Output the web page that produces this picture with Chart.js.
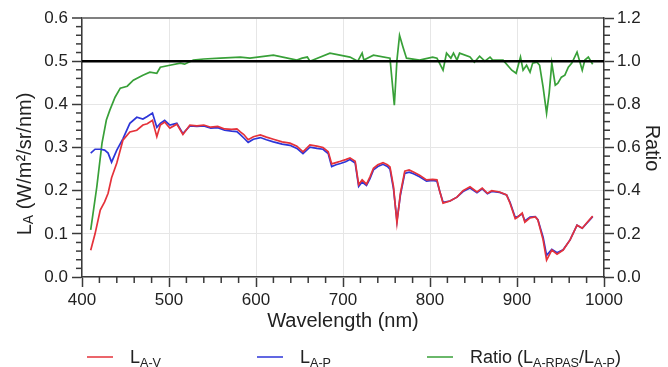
<!DOCTYPE html>
<html>
<head>
<meta charset="utf-8">
<script src="https://cdn.jsdelivr.net/npm/chart.js@4.4.1/dist/chart.umd.min.js"></script>
<style>
  html, body { margin: 0; padding: 0; background: #fff; }
  #wrap { width: 668px; height: 367px; }
</style>
</head>
<body>
<div id="wrap"><canvas id="myChart" width="668" height="367"></canvas></div>
<script>
// wavelengths (nm) for the radiance curves
const wavelengths = [410, 415, 421, 426, 430, 434, 440, 447, 455, 463, 470, 475, 481, 486, 490, 495, 501, 509, 516, 524,
  532, 540, 548, 556, 564, 572, 578, 582, 586, 591, 597, 605, 612, 620, 630, 639, 647, 654, 662, 670,
  677, 683, 687, 692, 697, 703, 708, 714, 718, 722, 727, 731, 735, 740, 746, 751, 754, 758, 762, 766,
  771, 776, 781, 788, 796, 803, 808, 811, 815, 823, 831, 838, 846, 854, 860, 866, 871, 880, 888, 892,
  898, 901, 906, 909, 915, 921, 924, 930, 934, 940, 946, 953, 961, 969, 975, 980, 987];
// L_A-V radiance (W/m2/sr/nm)
const radianceV = [0.062, 0.100, 0.155, 0.174, 0.194, 0.230, 0.264, 0.317, 0.336, 0.340, 0.352, 0.355, 0.363, 0.325, 0.352, 0.359, 0.345, 0.354, 0.330, 0.352,
  0.350, 0.352, 0.347, 0.349, 0.343, 0.342, 0.343, 0.336, 0.330, 0.318, 0.325, 0.329, 0.324, 0.319, 0.313, 0.310, 0.303, 0.290, 0.306, 0.303,
  0.300, 0.290, 0.262, 0.265, 0.268, 0.272, 0.276, 0.268, 0.214, 0.225, 0.215, 0.232, 0.252, 0.260, 0.265, 0.260, 0.255, 0.210, 0.125, 0.194,
  0.245, 0.248, 0.243, 0.236, 0.225, 0.226, 0.225, 0.200, 0.171, 0.176, 0.185, 0.200, 0.209, 0.197, 0.206, 0.194, 0.200, 0.197, 0.190, 0.171,
  0.135, 0.139, 0.148, 0.127, 0.137, 0.139, 0.132, 0.086, 0.039, 0.0625, 0.053, 0.0625, 0.086, 0.120, 0.113, 0.125, 0.141];
// L_A-P radiance (W/m2/sr/nm)
const radianceP = [0.287, 0.296, 0.296, 0.294, 0.287, 0.266, 0.294, 0.320, 0.356, 0.370, 0.366, 0.372, 0.380, 0.347, 0.356, 0.363, 0.352, 0.356, 0.332, 0.350,
  0.349, 0.350, 0.345, 0.346, 0.340, 0.338, 0.337, 0.330, 0.322, 0.312, 0.319, 0.323, 0.318, 0.313, 0.308, 0.305, 0.298, 0.286, 0.301, 0.298,
  0.296, 0.286, 0.256, 0.260, 0.263, 0.267, 0.272, 0.264, 0.210, 0.220, 0.212, 0.228, 0.248, 0.256, 0.261, 0.256, 0.250, 0.205, 0.130, 0.190,
  0.240, 0.243, 0.239, 0.232, 0.222, 0.224, 0.222, 0.200, 0.173, 0.176, 0.185, 0.198, 0.206, 0.195, 0.204, 0.193, 0.198, 0.196, 0.190, 0.173,
  0.138, 0.140, 0.146, 0.130, 0.139, 0.140, 0.133, 0.092, 0.050, 0.064, 0.056, 0.063, 0.086, 0.120, 0.113, 0.124, 0.140];

// wavelengths (nm) and ratio L_A-RPAS / L_A-P
const ratioWavelengths = [410, 417, 423, 428, 432, 438, 444, 452, 459, 470, 478, 486, 490, 501, 513, 518, 528, 540, 559, 582,
  593, 620, 647, 653, 659, 662, 685, 708, 717, 722, 724, 735, 754, 759, 762, 765, 769, 773, 788, 803,
  808, 815, 819, 824, 827, 831, 834, 846, 851, 857, 863, 869, 872, 884, 894, 899, 904, 907, 911, 915,
  918, 923, 926, 930, 934, 937, 940, 944, 947, 951, 955, 959, 963, 969, 975, 978, 982, 987];
const ratioValues = [0.218, 0.417, 0.620, 0.727, 0.773, 0.833, 0.875, 0.884, 0.912, 0.935, 0.949, 0.944, 0.972, 0.981, 0.991, 0.986, 1.005, 1.010, 1.014, 1.019,
  1.014, 1.028, 1.005, 1.014, 1.019, 1.000, 1.037, 1.019, 1.000, 1.037, 1.005, 1.028, 1.014, 0.796, 1.005, 1.120, 1.065, 1.014, 1.005, 1.019,
  1.014, 0.958, 1.037, 1.014, 1.037, 1.005, 1.037, 1.019, 0.995, 1.023, 1.000, 1.019, 1.005, 1.005, 0.958, 0.944, 1.019, 0.958, 0.981, 0.949,
  0.991, 0.995, 0.981, 0.880, 0.759, 0.852, 0.991, 0.889, 0.898, 0.926, 0.935, 0.972, 0.991, 1.042, 0.958, 1.005, 1.019, 0.986];
const ratioReference = 1.0;

// axis ranges and tick steps
const xRange = [400, 1000], xStep = 100;
const yRange = [0, 0.6], yStep = 0.1;
const ratioRange = [0, 1.2], ratioStep = 0.2;
const minorPerMajor = 5;

const FONT = "'Liberation Sans', Arial, sans-serif";
const RED = '#e5323a', BLUE = '#2d35d8', GREEN = '#38a038';
const AXIS = '#3a3a3a';

const toPoints = (xs, ys) => xs.map((x, i) => ({ x: x, y: ys[i] }));

// small ticks between the labelled ones
const minorTicks = {
  id: 'minorTicks',
  afterDatasetsDraw(chart) {
    const c = chart.ctx;
    const steps = { x: xStep, y: yStep, y1: ratioStep };
    c.save();
    c.strokeStyle = AXIS;
    c.lineWidth = 1.5;
    Object.keys(steps).forEach(id => {
      const s = chart.scales[id];
      const step = steps[id] / minorPerMajor;
      const n = Math.round((s.max - s.min) / step);
      for (let i = 1; i < n; i++) {
        if (i % minorPerMajor === 0) continue;
        const p = s.getPixelForValue(s.min + i * step);
        c.beginPath();
        if (id === 'x') { c.moveTo(p, s.top); c.lineTo(p, s.top + 6); }
        else if (id === 'y') { c.moveTo(s.right, p); c.lineTo(s.right - 6, p); }
        else { c.moveTo(s.left, p); c.lineTo(s.left + 6, p); }
        c.stroke();
      }
    });
    c.restore();
  }
};

// text with subscripts: parts are [text, isSub]
function drawRich(c, parts, x, y, size) {
  parts.forEach(([t, sub]) => {
    c.font = (sub ? size * 0.7 : size) + 'px ' + FONT;
    c.fillText(t, x, sub ? y + size * 0.2 : y);
    x += c.measureText(t).width;
  });
  return x;
}
function richWidth(c, parts, size) {
  let w = 0;
  parts.forEach(([t, sub]) => {
    c.font = (sub ? size * 0.7 : size) + 'px ' + FONT;
    w += c.measureText(t).width;
  });
  return w;
}

const titlesAndLegend = {
  id: 'titlesAndLegend',
  afterDraw(chart) {
    const c = chart.ctx;
    const area = chart.chartArea;
    c.save();
    c.fillStyle = '#222';
    c.textBaseline = 'middle';

    // x title
    c.font = '20px ' + FONT;
    c.textAlign = 'center';
    c.fillText('Wavelength (nm)', (area.left + area.right) / 2, 321);

    // right title
    c.save();
    c.translate(652, 148);
    c.rotate(Math.PI / 2);
    c.fillText('Ratio', 0, 0);
    c.restore();

    // left title
    c.textAlign = 'left';
    const yTitle = [['L', false], ['A', true], [' (W/m\u00b2/sr/nm)', false]];
    c.save();
    c.translate(25, 164);
    c.rotate(-Math.PI / 2);
    drawRich(c, yTitle, -richWidth(c, yTitle, 20) / 2, 0, 20);
    c.restore();

    // legend
    const entries = [
      { color: RED, x: 87, parts: [['L', false], ['A-V', true]] },
      { color: BLUE, x: 257, parts: [['L', false], ['A-P', true]] },
      { color: GREEN, x: 427, parts: [['Ratio (L', false], ['A-RPAS', true], ['/L', false], ['A-P', true], [')', false]] }
    ];
    c.textBaseline = 'alphabetic';
    entries.forEach(e => {
      c.strokeStyle = e.color;
      c.lineWidth = 1.5;
      c.beginPath();
      c.moveTo(e.x, 357);
      c.lineTo(e.x + 26, 357);
      c.stroke();
      drawRich(c, e.parts, e.x + 43, 363, 18);
    });
    c.restore();
  }
};

const tickFont = { family: FONT, size: 17 };

new Chart(document.getElementById('myChart'), {
  type: 'line',
  data: {
    datasets: [
      {
        label: 'Ratio = 1',
        data: [{ x: xRange[0], y: ratioReference }, { x: xRange[1], y: ratioReference }],
        yAxisID: 'y1', borderColor: '#000', borderWidth: 2.5, pointRadius: 0, order: 0
      },
      {
        label: 'L_A-V',
        data: toPoints(wavelengths, radianceV),
        yAxisID: 'y', borderColor: RED, borderWidth: 1.7, pointRadius: 0, order: 1
      },
      {
        label: 'L_A-P',
        data: toPoints(wavelengths, radianceP),
        yAxisID: 'y', borderColor: BLUE, borderWidth: 1.7, pointRadius: 0, order: 2
      },
      {
        label: 'Ratio',
        data: toPoints(ratioWavelengths, ratioValues),
        yAxisID: 'y1', borderColor: GREEN, borderWidth: 1.7, pointRadius: 0, order: 3
      }
    ]
  },
  options: {
    responsive: false,
    animation: false,
    layout: { padding: { top: 18, left: 0, right: 0, bottom: 0 } },
    plugins: { legend: { display: false }, tooltip: { enabled: false } },
    elements: { line: { tension: 0 } },
    scales: {
      x: {
        type: 'linear',
        min: xRange[0], max: xRange[1],
        afterFit: s => { s.height = 90; },
        border: { color: AXIS, width: 1.5 },
        grid: { color: '#e6e6e6', tickColor: AXIS, tickWidth: 1.5, tickLength: 10 },
        ticks: { stepSize: xStep, font: tickFont, color: '#222', padding: 3, maxRotation: 0, callback: v => String(v) }
      },
      y: {
        position: 'left',
        min: yRange[0], max: yRange[1],
        afterFit: s => { s.width = 82; },
        border: { color: AXIS, width: 1.5 },
        grid: {
          color: ctx => ctx.tick && Math.abs(ctx.tick.value - yRange[1]) < 1e-9 ? '#808080' : '#e6e6e6',
          lineWidth: ctx => ctx.tick && Math.abs(ctx.tick.value - yRange[1]) < 1e-9 ? 2 : 1,
          tickColor: AXIS, tickWidth: 1.5, tickLength: 10
        },
        ticks: { stepSize: yStep, font: tickFont, color: '#222', padding: 4, callback: v => v.toFixed(1) }
      },
      y1: {
        position: 'right',
        min: ratioRange[0], max: ratioRange[1],
        afterFit: s => { s.width = 64; },
        border: { color: AXIS, width: 1.5 },
        grid: { drawOnChartArea: false, tickColor: AXIS, tickWidth: 1.5, tickLength: 10 },
        ticks: { stepSize: ratioStep, font: tickFont, color: '#222', padding: 3, callback: v => v.toFixed(1) }
      }
    }
  },
  plugins: [minorTicks, titlesAndLegend]
});
</script>
</body>
</html>
